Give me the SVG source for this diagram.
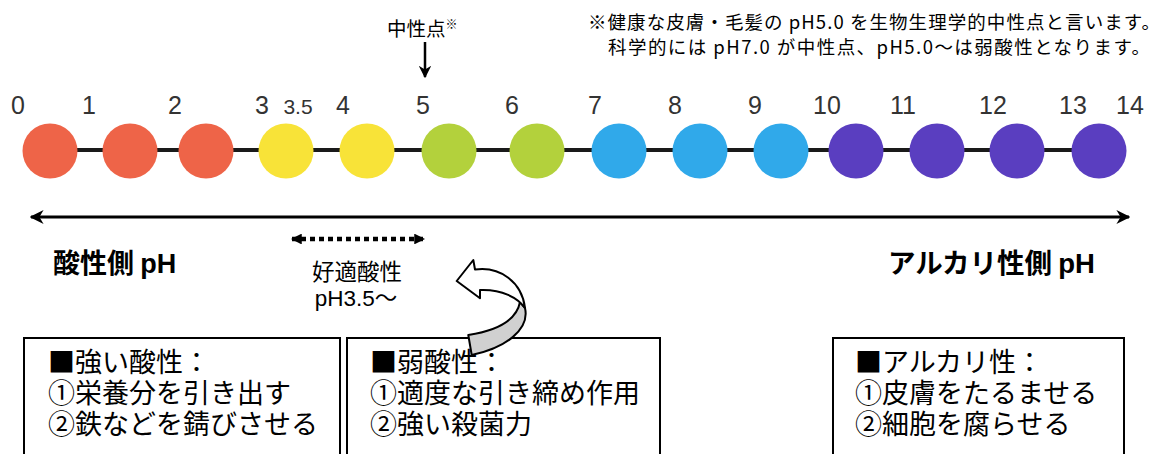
<svg xmlns="http://www.w3.org/2000/svg" width="1174" height="454" viewBox="0 0 1174 454">
<style>
.num{font-family:"Liberation Sans",Arial,sans-serif;font-size:25px;fill:#333;text-anchor:middle}
.jp{font-family:"Noto Sans CJK JP","Noto Sans",sans-serif;fill:#000}
.box{fill:#fff;stroke:#000;stroke-width:2}
.bt{font-family:"Noto Sans CJK JP","Noto Sans",sans-serif;font-size:27px;fill:#000}
.red{fill:#EE6448}.yel{fill:#F8E338}.grn{fill:#B3D13C}.blu{fill:#30A9EA}.pur{fill:#5A3EC0}
</style>
<defs>
<marker id="ah" viewBox="0 0 10 10" refX="9" refY="5" markerWidth="5" markerHeight="5" orient="auto-start-reverse" markerUnits="strokeWidth">
<path d="M0,0 L10,5 L0,10 L3,5 Z" fill="#000"/>
</marker>
<marker id="ahs" viewBox="0 0 10 10" refX="9" refY="5" markerWidth="2.4" markerHeight="2.4" orient="auto-start-reverse" markerUnits="strokeWidth">
<path d="M0,0 L10,5 L0,10 Z" fill="#000"/>
</marker>
</defs>
<rect width="1174" height="454" fill="#fff"/>

<g id="connectors">
<line x1="50" y1="150" x2="1099" y2="150" stroke="#1a1a1a" stroke-width="4"/>
<line x1="425" y1="42" x2="425" y2="77" stroke="#000" stroke-width="2.5" marker-end="url(#ah)"/>
<line x1="31" y1="217" x2="1129" y2="217" stroke="#000" stroke-width="2.8" marker-start="url(#ah)" marker-end="url(#ah)"/>
<line x1="292" y1="239" x2="424" y2="239" stroke="#000" stroke-width="4.5" stroke-dasharray="5 4" marker-start="url(#ahs)" marker-end="url(#ahs)"/>
</g>

<g id="scale">
<g id="ph0"><circle class="red" cx="50" cy="151" r="27.5"/><text class="num" x="18" y="114">0</text></g>
<g id="ph1"><circle class="red" cx="130" cy="151" r="27.5"/><text class="num" x="89" y="114">1</text></g>
<g id="ph2"><circle class="red" cx="206" cy="151" r="27.5"/><text class="num" x="175" y="114">2</text></g>
<g id="ph3"><circle class="yel" cx="286" cy="151" r="27.5"/><text class="num" x="262" y="114">3</text><text class="num" x="298" y="114" style="font-size:21px">3.5</text></g>
<g id="ph4"><circle class="yel" cx="367" cy="151" r="27.5"/><text class="num" x="343" y="114">4</text></g>
<g id="ph5"><circle class="grn" cx="449" cy="151" r="27.5"/><text class="num" x="423" y="114">5</text></g>
<g id="ph6"><circle class="grn" cx="537" cy="151" r="27.5"/><text class="num" x="512" y="114">6</text></g>
<g id="ph7"><circle class="blu" cx="619" cy="151" r="27.5"/><text class="num" x="595" y="114">7</text></g>
<g id="ph8"><circle class="blu" cx="700" cy="151" r="27.5"/><text class="num" x="675" y="114">8</text></g>
<g id="ph9"><circle class="blu" cx="781" cy="151" r="27.5"/><text class="num" x="755" y="114">9</text></g>
<g id="ph10"><circle class="pur" cx="856" cy="151" r="27.5"/><text class="num" x="827" y="114">10</text></g>
<g id="ph11"><circle class="pur" cx="937" cy="151" r="27.5"/><text class="num" x="903" y="114">11</text></g>
<g id="ph12"><circle class="pur" cx="1017" cy="151" r="27.5"/><text class="num" x="993" y="114">12</text></g>
<g id="ph13"><circle class="pur" cx="1099" cy="151" r="27.5"/><text class="num" x="1073" y="114">13</text><text class="num" x="1130" y="114">14</text></g>
</g>

<g id="neutral-label">
<text class="jp" x="387" y="36" font-size="19.5">中性点<tspan font-size="12" dy="-7">※</tspan></text>
</g>

<g id="footnote">
<text class="jp" font-size="18.5"><tspan x="588" y="29" textLength="572" lengthAdjust="spacing">※健康な皮膚・毛髪の pH5.0 を生物生理学的中性点と言います。</tspan><tspan x="608" y="54" textLength="542" lengthAdjust="spacing">科学的には pH7.0 が中性点、pH5.0～は弱酸性となります。</tspan></text>
</g>

<g id="acid-label">
<text class="jp" x="53" y="273" font-size="27" font-weight="bold">酸性側 <tspan font-family="Liberation Sans,Arial,sans-serif">pH</tspan></text>
</g>
<g id="alkali-label">
<text class="jp" x="888" y="273" font-size="27.5" font-weight="bold">アルカリ性側 <tspan font-family="Liberation Sans,Arial,sans-serif">pH</tspan></text>
</g>

<g id="optimal-label">
<text class="jp" font-size="22.5" text-anchor="middle"><tspan x="357" y="280">好適酸性</tspan><tspan x="356" y="306"><tspan font-family="Liberation Sans,Arial,sans-serif">pH3.5</tspan>～</tspan></text>
</g>

<g id="box-strong-acid">
<rect class="box" x="24" y="338" width="316" height="130"/>
<text class="bt"><tspan x="48" y="372">■強い酸性：</tspan><tspan x="48" y="403">①栄養分を引き出す</tspan><tspan x="48" y="434">②鉄などを錆びさせる</tspan></text>
</g>

<g id="box-weak-acid">
<rect class="box" x="347" y="338" width="313" height="130"/>
<text class="bt"><tspan x="370" y="372">■弱酸性：</tspan><tspan x="370" y="403">①適度な引き締め作用</tspan><tspan x="370" y="434">②強い殺菌力</tspan></text>
</g>

<g id="box-alkali">
<rect class="box" x="833" y="338" width="291" height="130"/>
<text class="bt"><tspan x="855" y="372">■アルカリ性：</tspan><tspan x="855" y="403">①皮膚をたるませる</tspan><tspan x="855" y="434">②細胞を腐らせる</tspan></text>
</g>

<g id="curved-arrow" stroke="#000" stroke-width="2" stroke-linejoin="round">
<path d="M520,302 C517,318 500,330 468.3,335 L471.7,355 C505,348 530,330 525,308 Z" fill="#D0D0D0"/>
<path d="M456.7,281 L473.3,260 L475,269.5 C500,266 522,282 525,308 C518,298 502,289 480,290 L480,298.3 Z" fill="#fff"/>
</g>
</svg>
